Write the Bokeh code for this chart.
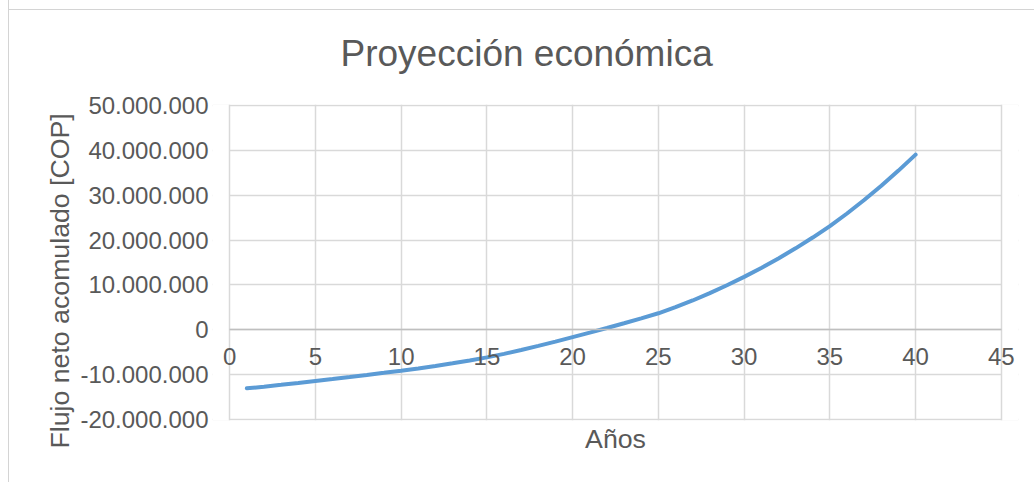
from bokeh.plotting import figure
from bokeh.models import LinearAxis, FixedTicker, CustomJSTickFormatter, Range1d, Grid, BoxAnnotation, Title
from bokeh.embed import file_html
from bokeh.resources import INLINE

# ---- data ----
anios = list(range(1, 41))
flujo_neto_acumulado = [  # COP
    -13.00e6, -12.62e6, -12.22e6, -11.80e6, -11.36e6,
    -10.92e6, -10.47e6, -10.01e6, -9.54e6, -9.06e6,
    -8.56e6, -8.01e6, -7.42e6, -6.79e6, -6.11e6,
    -5.33e6, -4.48e6, -3.56e6, -2.60e6, -1.60e6,
    -0.60e6, 0.43e6, 1.49e6, 2.58e6, 3.70e6,
    5.05e6, 6.55e6, 8.20e6, 9.95e6, 11.80e6,
    13.78e6, 15.90e6, 18.15e6, 20.55e6, 23.10e6,
    25.90e6, 28.90e6, 32.07e6, 35.44e6, 39.00e6,
]
x_ticks = [0, 5, 10, 15, 20, 25, 30, 35, 40, 45]
y_ticks = [-20e6, -10e6, 0, 10e6, 20e6, 30e6, 40e6, 50e6]
x_min, x_max = 0, 45
y_min, y_max = -20e6, 50e6

titulo = "Proyección económica"
eje_x = "Años"
eje_y = "Flujo neto acomulado [COP]"

FONT = "Liberation Sans"
TXT = "#595959"
GRID = "#d9d9d9"
EDGE = "#d4d4d4"

# frame slightly larger than the gridded area so the end tick labels and
# the boundary grid lines are not clipped
p = figure(width=1026, height=482, output_backend="svg", toolbar_location=None,
           x_range=Range1d(x_min - 1, x_max + 1),
           y_range=Range1d(y_min - 0.15e6, y_max + 0.15e6),
           x_axis_location=None, y_axis_location="left",
           min_border_left=203, min_border_right=17, min_border_top=104, min_border_bottom=62)
# chart-area edge (left + top), like the spreadsheet chart border
p.styles = {"margin-left": "8px",
            "border-left": f"1px solid {EDGE}",
            "background": f"linear-gradient({EDGE}, {EDGE}) 0 9px / 100% 1px no-repeat"}
p.background_fill_color = "white"
p.border_fill_color = None
p.outline_line_color = None
p.xgrid.visible = False

# title
p.title.text = titulo
p.title.align = "left"
p.title.vertical_align = "top"
p.title.offset = 128
p.title.text_font = FONT
p.title.text_font_size = "37px"
p.title.text_font_style = "normal"
p.title.text_color = TXT
p.title.standoff = 58

# y axis
ya = p.yaxis[0]
ya.ticker = FixedTicker(ticks=y_ticks)
ya.formatter = CustomJSTickFormatter(
    code="return Math.round(tick).toString().replace(/\\B(?=(\\d{3})+(?!\\d))/g, '.');")
ya.axis_line_color = None
ya.major_tick_line_color = None
ya.minor_tick_line_color = None
ya.major_tick_out = 0
ya.minor_tick_out = 0
ya.major_label_standoff = 4
ya.major_label_text_font = FONT
ya.major_label_text_font_size = "24px"
ya.major_label_text_color = TXT
p.ygrid.ticker = FixedTicker(ticks=y_ticks)
p.ygrid.grid_line_color = GRID
p.ygrid.grid_line_width = 1.5

# vertical axis title (placed like the spreadsheet's, slightly below centre)
p.add_layout(Title(text=eje_y, align="left", offset=-28, standoff=5,
                   text_font=FONT, text_font_size="26.7px", text_font_style="normal",
                   text_color=TXT), "left")

# white masks outside the gridded area (drawn over horizontal grid lines)
p.add_layout(BoxAnnotation(right=x_min, fill_color="white", fill_alpha=1,
                           line_color=None, level="underlay"))
p.add_layout(BoxAnnotation(left=x_max, fill_color="white", fill_alpha=1,
                           line_color=None, level="underlay"))

# vertical grid lines
p.add_layout(Grid(dimension=0, ticker=FixedTicker(ticks=x_ticks),
                  grid_line_color=GRID, grid_line_width=1.5))

# x axis crossing at y = 0 (tick labels)
xa = LinearAxis(ticker=FixedTicker(ticks=x_ticks), fixed_location=0, bounds=(x_min, x_max),
                axis_line_color="#bfbfbf", axis_line_width=1.5,
                major_tick_line_color=None, minor_tick_line_color=None,
                major_tick_out=0, minor_tick_out=0,
                major_label_standoff=18, major_label_text_font=FONT,
                major_label_text_font_size="24px", major_label_text_color=TXT)
p.add_layout(xa, "below")

# x axis title below the plot area
xt = LinearAxis(ticker=FixedTicker(ticks=[]), axis_line_color=None,
                major_tick_line_color=None, minor_tick_line_color=None,
                major_tick_out=0, major_label_standoff=0,
                axis_label=eje_x, axis_label_text_font=FONT,
                axis_label_text_font_size="26.7px", axis_label_text_font_style="normal",
                axis_label_text_color=TXT, axis_label_standoff=3)
p.add_layout(xt, "below")

p.line(anios, flujo_neto_acumulado, line_width=4, color="#5b9bd5", line_cap="round")

open("out.html", "w").write(file_html(p, INLINE))
